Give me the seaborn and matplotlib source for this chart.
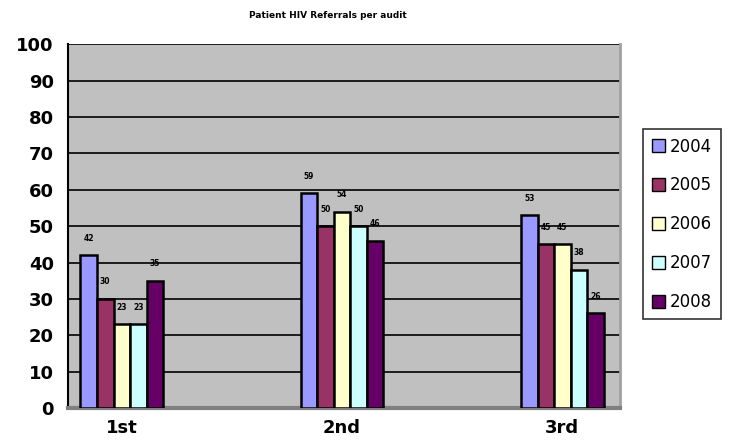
import matplotlib
matplotlib.use("Agg")
import matplotlib.pyplot as plt
import seaborn as sns
import pandas as pd

categories = ["1st", "2nd", "3rd"]
years = ["2004", "2005", "2006", "2007", "2008"]
v2004 = [42, 59, 53]
v2005 = [30, 50, 45]
v2006 = [23, 54, 45]
v2007 = [23, 50, 38]
v2008 = [35, 46, 26]
title_text = "Patient HIV Referrals per audit"

series = {"2004": v2004, "2005": v2005, "2006": v2006, "2007": v2007, "2008": v2008}
rows = []
for y in years:
    for c, v in zip(categories, series[y]):
        rows.append({"audit": c, "year": y, "value": v})
df = pd.DataFrame(rows)

palette = {"2004": "#9999FF", "2005": "#993366", "2006": "#FFFFCC",
           "2007": "#CCFFFF", "2008": "#660066"}

sns.set_style("white")
plt.rcParams["font.family"] = ["DejaVu Sans"]
plt.rcParams["text.color"] = "black"
plt.rcParams["xtick.color"] = "black"
plt.rcParams["ytick.color"] = "black"
plt.rcParams["xtick.labelcolor"] = "black"
plt.rcParams["ytick.labelcolor"] = "black"
plt.rcParams["axes.labelcolor"] = "black"

fig = plt.figure(figsize=(7.29, 4.46), dpi=100)
ax = fig.add_axes([0.093, 0.085, 0.757, 0.816])
ax.set_facecolor("#C0C0C0")

sns.barplot(data=df, x="audit", y="value", hue="year", hue_order=years,
            palette=palette, width=0.375, gap=0, edgecolor="black",
            linewidth=1.8, saturation=1, ax=ax, errorbar=None, zorder=3)

for cont in ax.containers:
    labels = [f"{int(v)}" for v in cont.datavalues]
    ax.bar_label(cont, labels=labels, padding=9, fontsize=5.5,
                 fontweight="bold", color="black")

ax.set_ylim(0, 100)
ax.set_xlim(-0.245, 2.26)
ax.set_yticks(range(0, 101, 10))
ax.yaxis.grid(True, color="black", linewidth=1.2, zorder=0)
ax.set_axisbelow(True)
ax.set_xlabel("")
ax.set_ylabel("")
ax.tick_params(axis="y", direction="out", length=4, width=2, color="black",
               labelsize=13, pad=6)
ax.tick_params(axis="x", length=0, labelsize=13, pad=8)
for lab in ax.get_yticklabels() + ax.get_xticklabels():
    lab.set_fontweight("heavy")

ax.spines["left"].set_color("black")
ax.spines["left"].set_linewidth(1.5)
ax.spines["bottom"].set_color("#808080")
ax.spines["bottom"].set_linewidth(3)
ax.spines["right"].set_color("#A0A0A0")
ax.spines["right"].set_linewidth(2)
ax.spines["top"].set_visible(False)

fig.text(0.45, 0.965, title_text, ha="center", va="center",
         fontsize=6.5, fontweight="bold")

leg = ax.legend(loc="center left", bbox_to_anchor=(1.028, 0.505),
                frameon=True, fontsize=12, handlelength=0.8, handleheight=0.8,
                labelspacing=1.25, handletextpad=0.3, borderpad=0.5,
                fancybox=False, title=None)
leg.get_frame().set_edgecolor("black")
leg.get_frame().set_linewidth(1.2)
leg.get_frame().set_facecolor("white")
for h in leg.legend_handles:
    h.set_edgecolor("black")
    h.set_linewidth(1)
for t in leg.get_texts():
    t.set_color("black")

fig.savefig("out.png", dpi=100)
